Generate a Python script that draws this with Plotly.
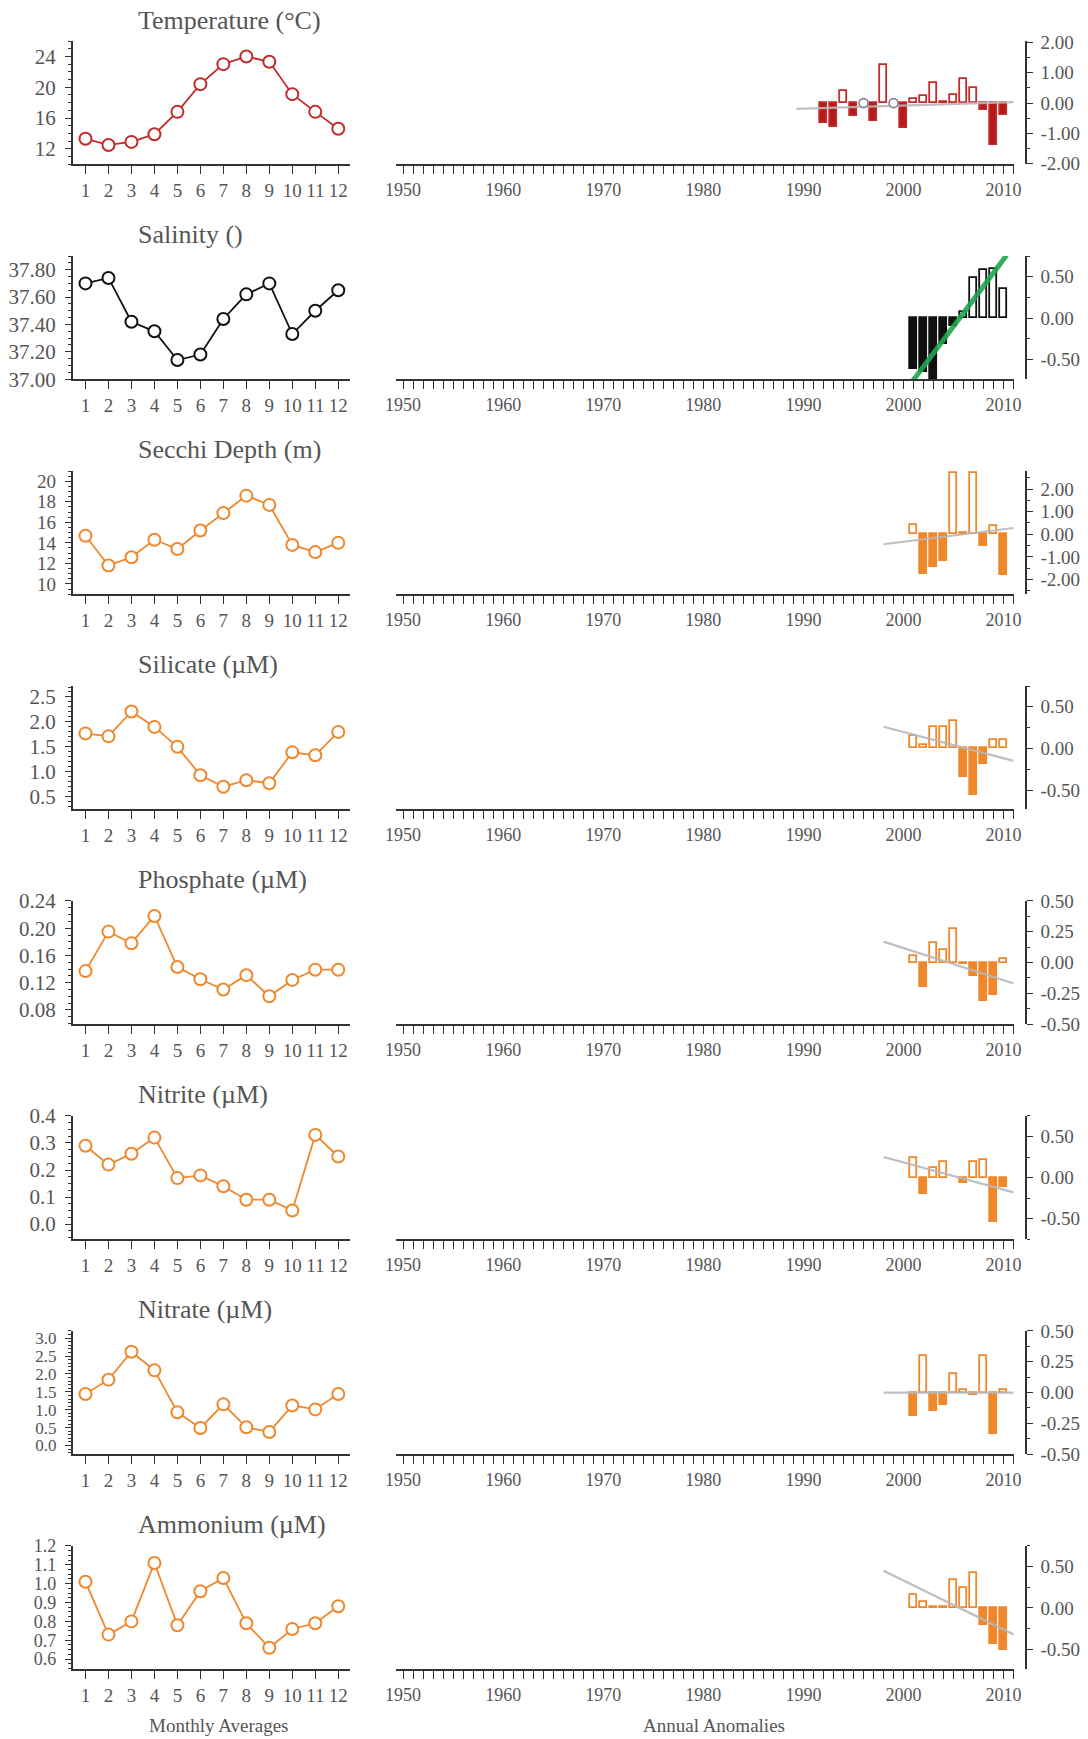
import plotly.graph_objects as go

# page placement of the figure: offset and scale from figure pixels to window pixels
OX, OY, SC = 8, 11, 0.985
FW, FH = 1097, 1755

# ---------------- data ----------------
months = list(range(1, 13))

titles = ["Temperature (°C)", "Salinity ()", "Secchi Depth (m)", "Silicate (µM)",
          "Phosphate (µM)", "Nitrite (µM)", "Nitrate (µM)", "Ammonium (µM)"]

temperature_monthly = [13.3, 12.5, 12.9, 13.9, 16.8, 20.4, 23.0, 24.0, 23.3, 19.1, 16.8, 14.6]
salinity_monthly = [37.70, 37.74, 37.42, 37.35, 37.14, 37.18, 37.44, 37.62, 37.70, 37.33, 37.50, 37.65]
secchi_monthly = [14.7, 11.8, 12.6, 14.3, 13.4, 15.2, 16.9, 18.6, 17.7, 13.8, 13.1, 14.0]
silicate_monthly = [1.77, 1.71, 2.21, 1.90, 1.50, 0.93, 0.70, 0.83, 0.77, 1.39, 1.33, 1.80]
phosphate_monthly = [0.137, 0.195, 0.178, 0.218, 0.143, 0.125, 0.110, 0.131, 0.100, 0.124, 0.139, 0.139]
nitrite_monthly = [0.29, 0.22, 0.26, 0.32, 0.17, 0.18, 0.14, 0.09, 0.09, 0.05, 0.33, 0.25]
nitrate_monthly = [1.44, 1.84, 2.62, 2.10, 0.93, 0.49, 1.15, 0.51, 0.38, 1.12, 1.01, 1.44]
ammonium_monthly = [1.01, 0.73, 0.80, 1.11, 0.78, 0.96, 1.03, 0.79, 0.66, 0.76, 0.79, 0.88]

temperature_years = list(range(1992, 2011))
temperature_anom = [-0.65, -0.80, 0.40, -0.42, None, -0.58, 1.26, None, -0.82, 0.13,
                    0.22, 0.67, 0.05, 0.25, 0.81, 0.50, -0.22, -1.39, -0.39]

anom_years = list(range(2001, 2011))
salinity_anom = [-0.62, -0.65, -0.74, -0.32, -0.10, 0.07, 0.48, 0.58, 0.59, 0.35]
secchi_anom = [0.39, -1.75, -1.44, -1.17, 2.72, 0.05, 2.72, -0.50, 0.35, -1.80]
silicate_anom = [0.15, 0.04, 0.26, 0.26, 0.33, -0.34, -0.56, -0.19, 0.10, 0.10]
phosphate_anom = [0.056, -0.195, 0.156, 0.106, 0.27, -0.01, -0.11, -0.31, -0.26, 0.03]
nitrite_anom = [0.24, -0.20, 0.12, 0.19, None, -0.07, 0.19, 0.22, -0.54, -0.12]
nitrate_anom = [-0.19, 0.30, -0.15, -0.10, 0.15, 0.02, -0.02, 0.30, -0.34, 0.02]
ammonium_anom = [0.16, 0.07, 0.01, 0.01, 0.34, 0.24, 0.42, -0.20, -0.43, -0.51]

# linear trends: (start year, end year), (start value, end value)
temperature_trend = ([1989.3, 2011.0], [-0.19, 0.03])
salinity_trend = ([2000.8, 2010.3], [-0.78, 0.76])
secchi_trend = ([1998.0, 2011.0], [-0.44, 0.28])
silicate_trend = ([1998.0, 2011.0], [0.26, -0.15])
phosphate_trend = ([1998.0, 2011.0], [0.17, -0.17])
nitrite_trend = ([1998.0, 2011.0], [0.25, -0.18])
nitrate_trend = ([1998.0, 2011.0], [0.0, 0.0])
ammonium_trend = ([1998.0, 2011.0], [0.45, -0.32])

decade_labels = [1950, 1960, 1970, 1980, 1990, 2000, 2010]

# ---------------- styling ----------------
RED, RED_FILL = "#c42a2a", "#b41c1c"
BLACK = "#111111"
ORANGE = "#ef882c"
GRAY_TXT = "#555555"
AXIS = "#333333"
FONT = "Liberation Serif"

monthly = [temperature_monthly, salinity_monthly, secchi_monthly, silicate_monthly,
           phosphate_monthly, nitrite_monthly, nitrate_monthly, ammonium_monthly]
anoms = [(temperature_years, temperature_anom), (anom_years, salinity_anom),
         (anom_years, secchi_anom), (anom_years, silicate_anom),
         (anom_years, phosphate_anom), (anom_years, nitrite_anom),
         (anom_years, nitrate_anom), (anom_years, ammonium_anom)]
trends = [temperature_trend, salinity_trend, secchi_trend, silicate_trend,
          phosphate_trend, nitrite_trend, nitrate_trend, ammonium_trend]
colors = [(RED, RED_FILL), (BLACK, BLACK)] + [(ORANGE, ORANGE)] * 6
trend_colors = ["#b8b8b8", "#1fa650"] + ["#b8b8b8"] * 6
trend_widths = [2.2, 5, 2.2, 2.2, 2.2, 2.2, 2.2, 2.2]

# left axis: range, major tick0/dtick, minor dtick, format, label size
left_axes = [
    ([10, 26], 12, 4, 1, ".0f", 21),
    ([37.0, 37.9], 37.0, 0.2, 0.05, ".2f", 21),
    ([9, 21], 10, 2, 0.5, ".0f", 19),
    ([0.25, 2.72], 0.5, 0.5, 0.1, ".1f", 21),
    ([0.059, 0.24], 0.08, 0.04, 0.01, ".2f", 21),
    ([-0.056, 0.4], 0.0, 0.1, 0.025, ".1f", 21),
    ([-0.24, 3.2], 0.0, 0.5, 0.1, ".1f", 17),
    ([0.547, 1.2], 0.6, 0.1, 0.025, ".1f", 18),
]
# right axis: range, labelled ticks, minor dtick
right_axes = [
    ([-2.02, 2.05], [2, 1, 0, -1, -2], 0.5),
    ([-0.74, 0.75], [0.5, 0, -0.5], 0.25),
    ([-2.65, 2.8], [2, 1, 0, -1, -2], 0.5),
    ([-0.73, 0.75], [0.5, 0, -0.5], 0.25),
    ([-0.5, 0.5], [0.5, 0.25, 0, -0.25, -0.5], 0.125),
    ([-0.75, 0.75], [0.5, 0, -0.5], 0.25),
    ([-0.5, 0.5], [0.5, 0.25, 0, -0.25, -0.5], 0.125),
    ([-0.74, 0.75], [0.5, 0, -0.5], 0.25),
]


def fmt(v):
    s = f"{abs(v):.2f}"
    return ("-" + s) if v < 0 else s


def px(x):
    """window x (px) -> paper fraction"""
    return (x - OX) / SC / FW


def py(y):
    """window y (px, from top) -> paper fraction"""
    return 1 - (y - OY) / SC / FH


ROW_TOP0, ROW_PITCH, PLOT_H = 40, 214.7, 123
LEFT_X0, LEFT_X1 = 70, 348
RIGHT_X0, RIGHT_X1, RIGHT_YAX = 394, 1013, 1025

fig = go.Figure()
layout = dict(
    width=FW, height=FH, margin=dict(l=0, r=0, t=0, b=0),
    paper_bgcolor="white", plot_bgcolor="white", showlegend=False,
    font=dict(family=FONT, color=GRAY_TXT), bargap=0,
)
annotations = []
all_years = list(range(1950, 2012))

for i in range(8):
    top = ROW_TOP0 + i * ROW_PITCH
    bot = top + PLOT_H
    ydom = [py(bot), py(top)]
    li, ri = 2 * i + 1, 2 * i + 2
    lx, ly, rx, ry = f"x{li}", f"y{li}", f"x{ri}", f"y{ri}"
    line_c, fill_c = colors[i]

    # monthly averages
    fig.add_trace(go.Scatter(
        x=months, y=monthly[i], mode="lines+markers", xaxis=lx, yaxis=ly,
        line=dict(color=line_c, width=1.8),
        marker=dict(symbol="circle", size=12, color="white", line=dict(color=line_c, width=2)),
    ))

    # annual anomalies
    yrs, vals = anoms[i]
    bx = [y for y, v in zip(yrs, vals) if v is not None]
    bv = [v for v in vals if v is not None]
    fig.add_trace(go.Bar(
        x=bx, y=bv, width=0.68, xaxis=rx, yaxis=ry,
        marker=dict(color=[fill_c if v < 0 else "white" for v in bv],
                    line=dict(color=line_c, width=1.8)),
    ))
    tx, tv = trends[i]
    fig.add_trace(go.Scatter(
        x=tx, y=tv, mode="lines", xaxis=rx, yaxis=ry,
        line=dict(color=trend_colors[i], width=trend_widths[i]), opacity=0.9,
    ))
    missing = [y for y, v in zip(yrs, vals) if v is None]
    if i == 0 and missing:
        fig.add_trace(go.Scatter(
            x=missing, y=[0] * len(missing), mode="markers", xaxis=rx, yaxis=ry,
            marker=dict(symbol="circle", size=9, color="white",
                        line=dict(color="#7d8794", width=1.6)),
        ))

    rng, t0, dt, mdt, tf, fs = left_axes[i]
    layout[f"xaxis{li}"] = dict(
        domain=[px(LEFT_X0), px(LEFT_X1)], anchor=ly, range=[0.45, 12.52],
        tickmode="array", tickvals=months, ticks="outside", ticklen=8, tickwidth=1.2,
        tickcolor=AXIS, showline=True, linecolor=AXIS, linewidth=2, showgrid=False,
        zeroline=False, tickfont=dict(size=19, color=GRAY_TXT, family=FONT),
    )
    layout[f"yaxis{li}"] = dict(
        domain=ydom, anchor=lx, range=rng, tickmode="linear", tick0=t0, dtick=dt,
        tickformat=tf, ticks="outside", ticklen=6, tickwidth=1.2, tickcolor=AXIS,
        ticklabelstandoff=5,
        minor=dict(tickmode="linear", tick0=t0, dtick=mdt, ticks="outside", ticklen=3,
                   tickcolor=AXIS, showgrid=False),
        showline=True, linecolor=AXIS, linewidth=2, showgrid=False, zeroline=False,
        tickfont=dict(size=fs, color=GRAY_TXT, family=FONT),
    )

    rrng, rticks, rmdt = right_axes[i]
    layout[f"xaxis{ri}"] = dict(
        domain=[px(RIGHT_X0), px(RIGHT_X1)], anchor=ry, range=[1949.3, 2011.0],
        tickmode="array", tickvals=all_years,
        ticktext=[str(y) if y in decade_labels else "" for y in all_years],
        ticks="outside", ticklen=8, tickwidth=1.2, tickcolor=AXIS,
        showline=True, linecolor=AXIS, linewidth=2, showgrid=False, zeroline=False,
        tickfont=dict(size=18, color=GRAY_TXT, family=FONT),
    )
    layout[f"yaxis{ri}"] = dict(
        domain=ydom, anchor="free", position=px(RIGHT_YAX), side="right", range=rrng,
        tickmode="array", tickvals=rticks, ticktext=[fmt(v) for v in rticks],
        ticks="outside", ticklen=6, tickwidth=1.2, tickcolor=AXIS,
        ticklabelstandoff=4,
        minor=dict(tickmode="linear", tick0=0, dtick=rmdt, ticks="outside", ticklen=3,
                   tickcolor=AXIS, showgrid=False),
        showline=True, linecolor=AXIS, linewidth=2, showgrid=False, zeroline=False,
        tickfont=dict(size=19, color=GRAY_TXT, family=FONT),
    )

    annotations.append(dict(
        text=titles[i], x=px(133), y=py(top - 21), xref="paper", yref="paper",
        xanchor="left", yanchor="middle", showarrow=False,
        font=dict(size=26, color=GRAY_TXT, family=FONT),
    ))

for label, cx in (("Monthly Averages", 216), ("Annual Anomalies", 713)):
    annotations.append(dict(text=label, x=px(cx), y=py(1722),
                            xref="paper", yref="paper", xanchor="center",
                            yanchor="middle", showarrow=False,
                            font=dict(size=19, color=GRAY_TXT, family=FONT)))

layout["annotations"] = annotations
fig.update_layout(**layout)
fig.write_html("out.html")
